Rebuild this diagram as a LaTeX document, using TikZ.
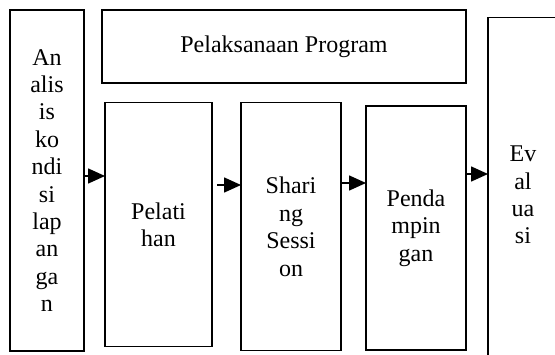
\documentclass[tikz,border=0pt]{standalone}
\usepackage{fontspec}
\setmainfont{Liberation Serif}
\usetikzlibrary{arrows.meta}
\begin{document}
\begin{tikzpicture}[x=1pt,y=1pt,
  box/.style={draw=black,line width=1.2pt,rectangle,anchor=north west,inner sep=0pt,outer sep=0pt,align=center,
    font=\fontsize{24}{27.4}\selectfont},
  arr/.style={line width=1.6pt,-{Triangle[length=17pt,width=15pt]}}]
\useasboundingbox (0,0) rectangle (555,354);
\clip (0,0) rectangle (555,354);
\node[box,minimum width=74pt,minimum height=341pt] (ana) at (10,344) {An\\alis\\is\\ko\\ndi\\si\\lap\\an\\ga\\n};
\node[box,minimum width=364pt,minimum height=73pt] (pel) at (102,344) {Pelaksanaan Program};
\node[box,minimum width=107pt,minimum height=244pt] (lat) at (105,251.3) {Pelati\\han};
\node[box,minimum width=100pt,minimum height=248pt] (sha) at (241,251.3) {Shari\\ng\\Sessi\\on};
\node[box,minimum width=100pt,minimum height=244pt] (pen) at (366,248) {Penda\\mpin\\gan};
\node[box,minimum width=70pt,minimum height=355pt] (eva) at (488,336.5) {Ev\\al\\ua\\si};
\draw[arr] (ana.east |- 0,178) -- (lat.west |- 0,178);
\draw[arr] ([xshift=5pt]lat.east |- 0,169) -- (sha.west |- 0,169);
\draw[arr] ([xshift=1pt]sha.east |- 0,171) -- (pen.west |- 0,171);
\draw[arr] (pen.east |- 0,180) -- (eva.west |- 0,180);
\end{tikzpicture}
\end{document}
